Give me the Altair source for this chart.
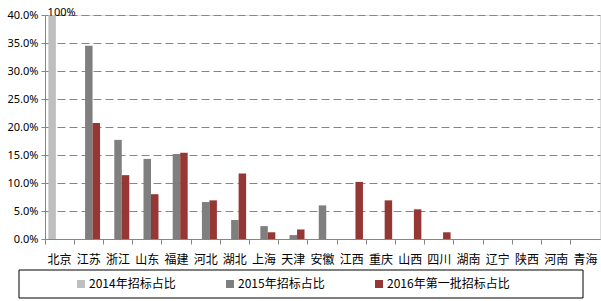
import altair as alt
import pandas as pd

provinces = ["北京", "江苏", "浙江", "山东", "福建", "河北", "湖北", "上海", "天津", "安徽",
             "江西", "重庆", "山西", "四川", "湖南", "辽宁", "陕西", "河南", "青海"]
series_names = ["2014年招标占比", "2015年招标占比", "2016年第一批招标占比"]
v2014 = [1.00, 0, 0, 0, 0, 0, 0, 0, 0, 0, 0, 0, 0, 0, 0, 0, 0, 0, 0]
v2015 = [0, 0.345, 0.177, 0.143, 0.152, 0.066, 0.034, 0.023, 0.007, 0.060,
         0, 0, 0, 0, 0, 0, 0, 0, 0]
v2016 = [0, 0.207, 0.114, 0.080, 0.154, 0.069, 0.117, 0.012, 0.017, 0,
         0.102, 0.069, 0.053, 0.012, 0, 0, 0, 0, 0]
y_ticks = [0, 0.05, 0.10, 0.15, 0.20, 0.25, 0.30, 0.35, 0.40]
colors = ["#BFBFBF", "#7F7F7F", "#953735"]
label_100 = "100%"

rows = []
for name, vals in zip(series_names, [v2014, v2015, v2016]):
    for p, v in zip(provinces, vals):
        rows.append({"省份": p, "系列": name, "占比": v})
df = pd.DataFrame(rows)

W, H = 555, 224

x_axis = alt.Axis(title=None, labelAngle=0, bandPosition=0, grid=False,
                  labelFont="Noto Sans CJK SC", labelFontSize=12, labelColor="#000",
                  labelPadding=10, domainColor="#868686", tickColor="#868686",
                  tickSize=5, labelBound=False, labelOverlap=False)
y_axis = alt.Axis(title=None, format=".1%", values=y_ticks, tickCount=20,
                  grid=True, gridDash=[8, 4], gridColor="#868686",
                  labelOverlap=False,
                  labelFont="Noto Sans", labelFontSize=11, labelColor="#000",
                  domainColor="#868686", tickColor="#868686", tickSize=4,
                  labelPadding=3)
x_scale = alt.Scale(paddingInner=0, paddingOuter=0)
y_scale = alt.Scale(domain=[0, 0.4], clamp=True, nice=False)

bars = alt.Chart(df).mark_bar().encode(
    x=alt.X("省份:N", sort=provinces, scale=x_scale, axis=x_axis),
    xOffset=alt.XOffset("系列:N", sort=series_names,
                        scale=alt.Scale(paddingInner=0, paddingOuter=0.45)),
    y=alt.Y("占比:Q", scale=y_scale, axis=y_axis),
    color=alt.Color("系列:N", sort=series_names,
                    scale=alt.Scale(domain=series_names, range=colors),
                    legend=alt.Legend(title=None, orient="none", legendX=30, legendY=263,
                                      direction="horizontal", symbolType="square",
                                      symbolSize=64, symbolStrokeWidth=0,
                                      labelFont="Noto Sans CJK SC", labelFontSize=12,
                                      labelColor="#000", columnPadding=48, labelOffset=2,
                                      labelLimit=300)),
)

text = alt.Chart(pd.DataFrame({"省份": [provinces[0]], "占比": [v2014[0]], "t": [label_100]})).mark_text(
    align="left", baseline="bottom", dx=-12, dy=3, font="Noto Sans", fontSize=11, color="#000"
).encode(
    x=alt.X("省份:N", sort=provinces, scale=x_scale, axis=x_axis),
    y=alt.Y("占比:Q", scale=y_scale, axis=y_axis),
    text="t:N",
)

frame = alt.Chart(pd.DataFrame({"a": [0]})).mark_rect(
    filled=False, stroke="#000", strokeWidth=1
).encode(
    x=alt.value(-26), x2=alt.value(538), y=alt.value(255), y2=alt.value(283)
)

chart = alt.layer(bars, text, frame).properties(
    width=W, height=H,
    padding={"left": 45, "top": 15, "right": 1, "bottom": 62},
    autosize=alt.AutoSizeParams(type="none"),
).configure_view(stroke=None).configure(background="#fff")

chart.save("out.html", embed_options={"renderer": "svg", "actions": False})
